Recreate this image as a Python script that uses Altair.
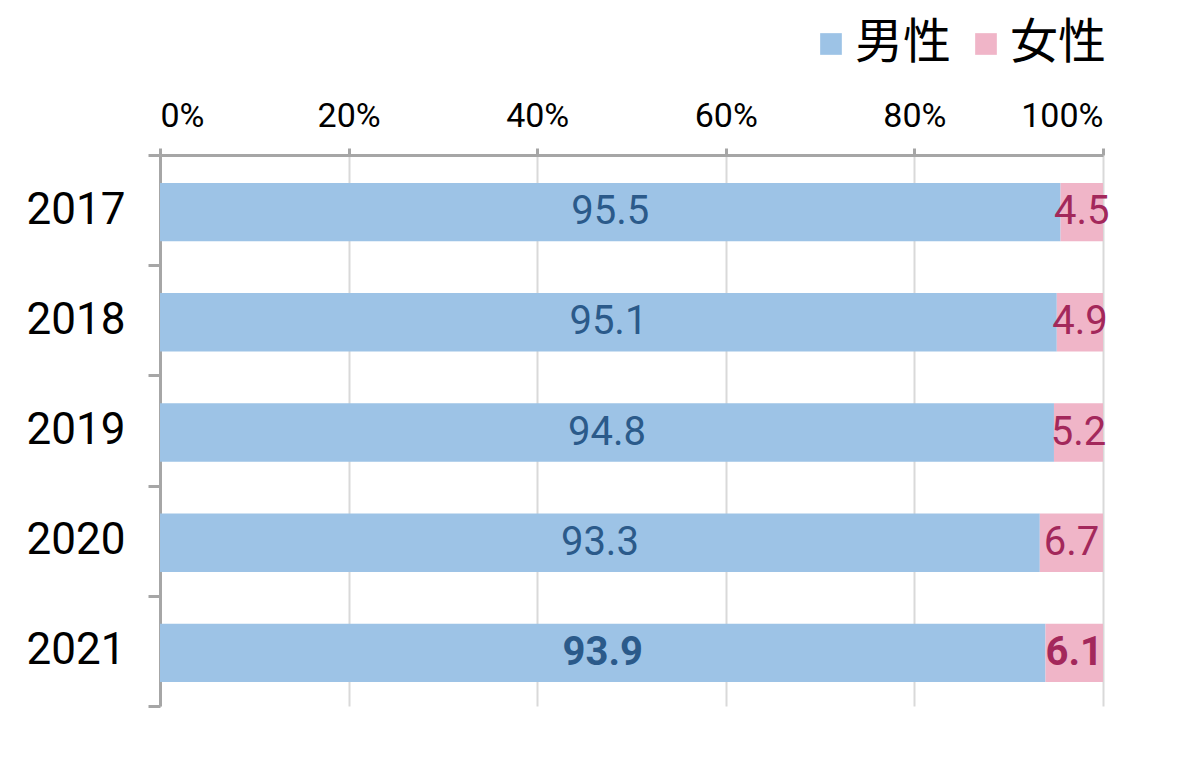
import altair as alt
import pandas as pd

years = ["2017", "2018", "2019", "2020", "2021"]
male = [95.5, 95.1, 94.8, 93.3, 93.9]
female = [4.5, 4.9, 5.2, 6.7, 6.1]
series = ["男性", "女性"]
bold_year = "2021"

rows = []
for y, m, f in zip(years, male, female):
    rows.append({"year": y, "sex": series[0], "value": m, "ord": 0,
                 "label": f"{m:.1f}", "bold": y == bold_year})
    rows.append({"year": y, "sex": series[1], "value": f, "ord": 1,
                 "label": f"{f:.1f}", "bold": y == bold_year})
df = pd.DataFrame(rows)

NUM_FONT = "Roboto, Liberation Sans, sans-serif"
CJK_FONT = "Noto Sans CJK JP, sans-serif"
AXIS_GRAY = "#a6a6a6"

yscale = alt.Scale(domain=years, paddingInner=0, paddingOuter=0)
xscale = alt.Scale(domain=[0, 100], nice=False)

base = alt.Chart(df)

bars = base.mark_bar(height={"band": 0.53}, yOffset=2).encode(
    y=alt.Y("year:N", scale=yscale, sort=years, title=None,
            axis=alt.Axis(orient="left", tickBand="extent", tickSize=12, tickWidth=3,
                          tickColor=AXIS_GRAY, domainColor=AXIS_GRAY, domainWidth=3,
                          labelFont=NUM_FONT, labelFontSize=44, labelColor="#000000",
                          labelPadding=23, grid=False)),
    x=alt.X("value:Q", stack="zero", scale=xscale, title=None,
            axis=alt.Axis(orient="top", values=[0, 20, 40, 60, 80, 100],
                          labelExpr="datum.value + '%'", tickSize=7, tickWidth=3,
                          tickColor=AXIS_GRAY, domainColor=AXIS_GRAY, domainWidth=3,
                          labelFont=NUM_FONT, labelFontSize=34, labelColor="#000000",
                          labelPadding=15, grid=True, gridColor="#d9d9d9", gridWidth=2)),
    color=alt.Color("sex:N", scale=alt.Scale(domain=series, range=["#9dc3e6", "#f0b5c8"]),
                    legend=alt.Legend(title=None, orient="none", direction="horizontal",
                                      legendX=647, legendY=-135, symbolType="square",
                                      symbolSize=470, symbolStrokeWidth=0,
                                      labelFont=CJK_FONT, labelFontSize=48,
                                      labelColor="#000000", columnPadding=10,
                                      labelOffset=0)),
    order=alt.Order("ord:Q"),
)

text_base = base.transform_stack(
    stack="value", groupby=["year"], as_=["v0", "v1"],
    sort=[alt.SortField("ord", order="ascending")],
).transform_calculate(mid="(datum.v0 + datum.v1) / 2")

def text_layer(weight, is_bold):
    return text_base.transform_filter(
        "datum.bold" if is_bold else "!datum.bold"
    ).mark_text(font=NUM_FONT, fontSize=40, baseline="middle", align="center",
                fontWeight=weight, dy=2).encode(
        y=alt.Y("year:N", scale=yscale, sort=years),
        x=alt.X("mid:Q", scale=xscale),
        text="label:N",
        color=alt.Color("sex:N", scale=alt.Scale(domain=series, range=["#2b5a8a", "#a3285b"]),
                        legend=None),
    )

chart = (
    alt.layer(bars, text_layer("normal", False), text_layer("bold", True))
    .resolve_scale(color="independent")
    .properties(width=943, height=551, autosize=alt.AutoSizeParams(type="none"),
                padding={"left": 160, "top": 155, "right": 97, "bottom": 52},
                background="#ffffff")
    .configure_view(stroke=None)
)

chart.save("out.html", embed_options={"renderer": "svg", "actions": False})
